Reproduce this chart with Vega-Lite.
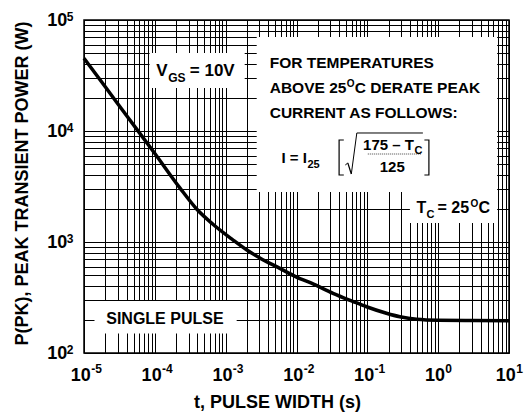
{
  "$schema": "https://vega.github.io/schema/vega-lite/v6.json",
  "width": 425,
  "height": 333,
  "autosize": "none",
  "padding": {"left": 84, "top": 20, "right": 19, "bottom": 59},
  "config": {
    "view": {"stroke": "black", "strokeWidth": 1.5},
    "font": "Liberation Sans",
    "text": {"font": "Liberation Sans", "fontWeight": "bold", "align": "left", "baseline": "alphabetic", "color": "black"}
  },
  "data": {"values": [{}]},
  "datasets": {
    "curve": [
      {"t": 0.00001, "p": 45190},
      {"t": 0.00001995, "p": 25000},
      {"t": 0.0000398, "p": 13800},
      {"t": 0.0001, "p": 6266},
      {"t": 0.000224, "p": 3090},
      {"t": 0.000398, "p": 1950},
      {"t": 0.000661, "p": 1445},
      {"t": 0.00126, "p": 1047},
      {"t": 0.00197, "p": 851},
      {"t": 0.00316, "p": 708},
      {"t": 0.00582, "p": 579},
      {"t": 0.0097, "p": 488},
      {"t": 0.0174, "p": 417},
      {"t": 0.0328, "p": 345},
      {"t": 0.0631, "p": 291},
      {"t": 0.0975, "p": 261},
      {"t": 0.186, "p": 228},
      {"t": 0.288, "p": 212},
      {"t": 0.495, "p": 201},
      {"t": 1, "p": 197},
      {"t": 3.16, "p": 196},
      {"t": 10, "p": 195.5}
    ],
    "xexp": [
      {"t": 0.00001, "e": "-5"}, {"t": 0.0001, "e": "-4"}, {"t": 0.001, "e": "-3"},
      {"t": 0.01, "e": "-2"}, {"t": 0.1, "e": "-1"}, {"t": 1, "e": "0"}, {"t": 10, "e": "1"}
    ],
    "yexp": [
      {"p": 100, "e": "2"}, {"p": 1000, "e": "3"}, {"p": 10000, "e": "4"}, {"p": 100000, "e": "5"}
    ]
  },
  "layer": [
    {"mark": {"type": "rect", "color": "white"},
     "encoding": {"x": {"datum": 0.0000843}, "x2": {"datum": 0.001856}, "y": {"datum": 50430}, "y2": {"datum": 24400}}},
    {"mark": {"type": "rect", "color": "white"},
     "encoding": {"x": {"datum": 0.002743}, "x2": {"datum": 6.8}, "y": {"datum": 70290}, "y2": {"datum": 2821}}},
    {"mark": {"type": "rect", "color": "white"},
     "encoding": {"x": {"datum": 0.3988}, "x2": {"datum": 6.8}, "y": {"datum": 2900}, "y2": {"datum": 1483}}},
    {"mark": {"type": "rect", "color": "white"},
     "encoding": {"x": {"datum": 0.00001407}, "x2": {"datum": 0.00143}, "y": {"datum": 294}, "y2": {"datum": 150}}},

    {"mark": {"type": "rect", "filled": false, "stroke": "black", "strokeWidth": 1.2},
     "encoding": {"x": {"datum": 0.03994}, "x2": {"datum": 0.740}, "y": {"datum": 8297}, "y2": {"datum": 4014}}},
    {"mark": {"type": "rect", "color": "white"},
     "encoding": {"x": {"datum": 0.04654}, "x2": {"datum": 0.6392}, "y": {"datum": 8648}, "y2": {"datum": 3851}}},
    {"mark": {"type": "rule", "color": "black", "strokeWidth": 1},
     "encoding": {"x": {"datum": 0.04887}, "y": {"datum": 4940}, "x2": {"datum": 0.05302}, "y2": {"datum": 5149}}},
    {"mark": {"type": "rule", "color": "black", "strokeWidth": 1.2},
     "encoding": {"x": {"datum": 0.05302}, "y": {"datum": 5149}, "x2": {"datum": 0.05941}, "y2": {"datum": 4100}}},
    {"mark": {"type": "rule", "color": "black", "strokeWidth": 1},
     "encoding": {"x": {"datum": 0.05941}, "y": {"datum": 4100}, "x2": {"datum": 0.07106}, "y2": {"datum": 9594}}},
    {"mark": {"type": "rule", "color": "black", "strokeWidth": 1},
     "encoding": {"x": {"datum": 0.07106}, "y": {"datum": 9594}, "x2": {"datum": 0.6089}, "y2": {"datum": 9594}}},
    {"mark": {"type": "rule", "color": "#444", "strokeWidth": 1, "strokeDash": [1, 1]},
     "encoding": {"x": {"datum": 0.1016}, "y": {"datum": 6205}, "x2": {"datum": 0.5834}, "y2": {"datum": 6205}}},

    {"mark": {"type": "text", "text": "V", "fontSize": 17},
     "encoding": {"x": {"datum": 0.0001048}, "y": {"datum": 31300}}},
    {"mark": {"type": "text", "text": "GS", "fontSize": 12, "dx": 12, "dy": 6},
     "encoding": {"x": {"datum": 0.0001048}, "y": {"datum": 31300}}},
    {"mark": {"type": "text", "text": "= 10V", "fontSize": 17, "dx": 33.5},
     "encoding": {"x": {"datum": 0.0001048}, "y": {"datum": 31300}}},

    {"mark": {"type": "text", "text": "FOR TEMPERATURES", "fontSize": 15.5},
     "encoding": {"x": {"datum": 0.004187}, "y": {"datum": 36720}}},
    {"mark": {"type": "text", "text": "ABOVE 25", "fontSize": 15.5, "dy": 25},
     "encoding": {"x": {"datum": 0.004187}, "y": {"datum": 36720}}},
    {"mark": {"type": "text", "text": "O", "fontSize": 10, "dx": 77, "dy": 19},
     "encoding": {"x": {"datum": 0.004187}, "y": {"datum": 36720}}},
    {"mark": {"type": "text", "text": "C DERATE PEAK", "fontSize": 15.5, "dx": 85, "dy": 25},
     "encoding": {"x": {"datum": 0.004187}, "y": {"datum": 36720}}},
    {"mark": {"type": "text", "text": "CURRENT AS FOLLOWS:", "fontSize": 15.5, "dy": 50},
     "encoding": {"x": {"datum": 0.004187}, "y": {"datum": 36720}}},

    {"mark": {"type": "text", "text": "I = I", "fontSize": 15},
     "encoding": {"x": {"datum": 0.00613}, "y": {"datum": 5117}}},
    {"mark": {"type": "text", "text": "25", "fontSize": 11, "dx": 26, "dy": 5},
     "encoding": {"x": {"datum": 0.00613}, "y": {"datum": 5117}}},
    {"mark": {"type": "text", "text": "175 – T", "fontSize": 15, "dx": 81.6, "dy": -13.3},
     "encoding": {"x": {"datum": 0.00613}, "y": {"datum": 5117}}},
    {"mark": {"type": "text", "text": "C", "fontSize": 11, "dx": 133, "dy": -9},
     "encoding": {"x": {"datum": 0.00613}, "y": {"datum": 5117}}},
    {"mark": {"type": "text", "text": "125", "fontSize": 15, "dx": 98.3, "dy": 8.4},
     "encoding": {"x": {"datum": 0.00613}, "y": {"datum": 5117}}},

    {"mark": {"type": "text", "text": "T", "fontSize": 16},
     "encoding": {"x": {"datum": 0.4958}, "y": {"datum": 1825}}},
    {"mark": {"type": "text", "text": "C", "fontSize": 11, "dx": 10, "dy": 5},
     "encoding": {"x": {"datum": 0.4958}, "y": {"datum": 1825}}},
    {"mark": {"type": "text", "text": "= 25", "fontSize": 16, "dx": 21},
     "encoding": {"x": {"datum": 0.4958}, "y": {"datum": 1825}}},
    {"mark": {"type": "text", "text": "O", "fontSize": 10, "dx": 54, "dy": -6},
     "encoding": {"x": {"datum": 0.4958}, "y": {"datum": 1825}}},
    {"mark": {"type": "text", "text": "C", "fontSize": 16, "dx": 62},
     "encoding": {"x": {"datum": 0.4958}, "y": {"datum": 1825}}},

    {"mark": {"type": "text", "text": "SINGLE PULSE", "fontSize": 16},
     "encoding": {"x": {"datum": 0.0000206}, "y": {"datum": 182.5}}},

    {"data": {"name": "xexp"},
     "mark": {"type": "text", "fontSize": 12, "dx": 7.2, "dy": 20.3},
     "encoding": {"x": {"field": "t", "type": "quantitative"}, "y": {"datum": 100}, "text": {"field": "e"}}},
    {"data": {"name": "yexp"},
     "mark": {"type": "text", "fontSize": 12, "dx": -17.3, "dy": 0.7},
     "encoding": {"x": {"datum": 0.00001}, "y": {"field": "p", "type": "quantitative"}, "text": {"field": "e"}}},

    {
      "data": {"name": "curve"},
      "mark": {"type": "line", "color": "black", "strokeWidth": 3.5, "interpolate": "monotone"},
      "encoding": {
        "x": {
          "field": "t", "type": "quantitative",
          "scale": {"type": "log", "domain": [0.00001, 10], "nice": false},
          "axis": {
            "title": "t, PULSE WIDTH (s)",
            "values": [0.00001,0.00002,0.00003,0.00004,0.00005,0.00006,0.00007,0.00008,0.00009,
                       0.0001,0.0002,0.0003,0.0004,0.0005,0.0006,0.0007,0.0008,0.0009,
                       0.001,0.002,0.003,0.004,0.005,0.006,0.007,0.008,0.009,
                       0.01,0.02,0.03,0.04,0.05,0.06,0.07,0.08,0.09,
                       0.1,0.2,0.3,0.4,0.5,0.6,0.7,0.8,0.9,
                       1,2,3,4,5,6,7,8,9,10],
            "labelExpr": "abs(log(datum.value)/LN10 - round(log(datum.value)/LN10)) > 0.001 ? '' : '10'",
            "grid": true, "gridColor": "black", "gridOpacity": 1, "gridWidth": 1,
            "ticks": false, "domain": false,
            "labelFont": "Liberation Sans", "labelFontWeight": "bold", "labelFontSize": 18, "labelColor": "black",
            "labelPadding": 27, "labelBaseline": "alphabetic", "labelOffset": -3.7,
            "labelOverlap": false, "labelFlush": false,
            "titleFont": "Liberation Sans", "titleFontWeight": "bold", "titleFontSize": 18, "titleColor": "black",
            "titleX": 193, "titleY": 54, "titleBaseline": "alphabetic", "titleAlign": "center"
          }
        },
        "y": {
          "field": "p", "type": "quantitative",
          "scale": {"type": "log", "domain": [100, 100000], "nice": false},
          "axis": {
            "title": "P(PK), PEAK TRANSIENT POWER (W)",
            "values": [100,200,300,400,500,600,700,800,900,
                       1000,2000,3000,4000,5000,6000,7000,8000,9000,
                       10000,20000,30000,40000,50000,60000,70000,80000,90000,100000],
            "labelExpr": "abs(log(datum.value)/LN10 - round(log(datum.value)/LN10)) > 0.001 ? '' : '10'",
            "grid": true, "gridColor": "black", "gridOpacity": 1, "gridWidth": 1,
            "ticks": false, "domain": false,
            "labelFont": "Liberation Sans", "labelFontWeight": "bold", "labelFontSize": 18, "labelColor": "black",
            "labelPadding": 17.3, "labelOverlap": false, "labelFlush": false, "labelBaseline": "middle",
            "titleFont": "Liberation Sans", "titleFontWeight": "bold", "titleFontSize": 18, "titleColor": "black",
            "titleX": -62, "titleY": 163, "titleBaseline": "middle", "titleAlign": "center"
          }
        }
      }
    }
  ]
}
